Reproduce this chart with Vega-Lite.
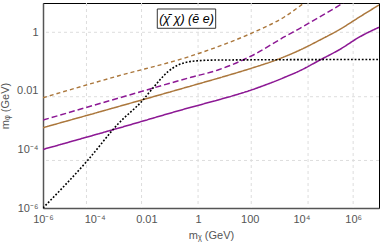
{
  "$schema": "https://vega.github.io/schema/vega-lite/v6.json",
  "width": 336,
  "height": 205,
  "autosize": {"type": "none"},
  "padding": {"left": 43, "top": 3, "right": 3, "bottom": 39},
  "background": "white",
  "config": {
    "view": {"stroke": "#000", "strokeWidth": 1},
    "axis": {
      "labelFont": "Liberation Sans",
      "titleFont": "Liberation Sans",
      "labelFontSize": 11,
      "titleFontSize": 11,
      "titleFontWeight": "normal",
      "labelColor": "#555",
      "titleColor": "#555",
      "domainColor": "#555",
      "domainWidth": 1.5,
      "ticks": false,
      "grid": false,
      "labelPadding": 5,
      "labelFlush": false,
      "labelOverlap": false
    },
    "axisX": {"titlePadding": 5},
    "axisY": {"titlePadding": 6}
  },
  "datasets": {
    "curves": [
      {"s": "bd", "x": 1e-6, "y": 0.00585},
      {"s": "bd", "x": 7.96e-4, "y": 0.0322},
      {"s": "bd", "x": 0.531, "y": 0.155},
      {"s": "bd", "x": 5.89, "y": 0.322},
      {"s": "bd", "x": 114.3, "y": 0.925},
      {"s": "bd", "x": 2239, "y": 3.4},
      {"s": "bd", "x": 12500, "y": 10},
      {"s": "pd", "x": 1e-6, "y": 0.00101},
      {"s": "pd", "x": 7.96e-4, "y": 0.00557},
      {"s": "pd", "x": 0.531, "y": 0.029},
      {"s": "pd", "x": 5.89, "y": 0.0516},
      {"s": "pd", "x": 114.3, "y": 0.155},
      {"s": "pd", "x": 2239, "y": 0.706},
      {"s": "pd", "x": 8750, "y": 1.37},
      {"s": "pd", "x": 43450, "y": 3.08},
      {"s": "pd", "x": 414000, "y": 10},
      {"s": "bs", "x": 1e-6, "y": 5.53e-4},
      {"s": "bs", "x": 7.96e-4, "y": 0.00288},
      {"s": "bs", "x": 0.531, "y": 0.01466},
      {"s": "bs", "x": 5.89, "y": 0.0269},
      {"s": "bs", "x": 114.3, "y": 0.059},
      {"s": "bs", "x": 1233, "y": 0.1197},
      {"s": "bs", "x": 8750, "y": 0.248},
      {"s": "bs", "x": 52000, "y": 0.546},
      {"s": "bs", "x": 308300, "y": 1.265},
      {"s": "bs", "x": 1832000, "y": 3.4},
      {"s": "bs", "x": 10000000, "y": 8.55},
      {"s": "ps", "x": 1e-6, "y": 1.0e-4},
      {"s": "ps", "x": 7.96e-4, "y": 5.27e-4},
      {"s": "ps", "x": 0.531, "y": 0.00275},
      {"s": "ps", "x": 5.89, "y": 0.00488},
      {"s": "ps", "x": 114.3, "y": 0.0107},
      {"s": "ps", "x": 2239, "y": 0.029},
      {"s": "ps", "x": 8750, "y": 0.0489},
      {"s": "ps", "x": 52000, "y": 0.113},
      {"s": "ps", "x": 308300, "y": 0.262},
      {"s": "ps", "x": 1832000, "y": 0.706},
      {"s": "ps", "x": 10000000, "y": 1.479},
      {"s": "dot", "x": 1e-6, "y": 1e-6},
      {"s": "dot", "x": 5.51e-5, "y": 4.37e-5},
      {"s": "dot", "x": 7.96e-4, "y": 7.4e-4},
      {"s": "dot", "x": 0.00738, "y": 0.00488},
      {"s": "dot", "x": 0.0155, "y": 0.0107},
      {"s": "dot", "x": 0.0686, "y": 0.0452},
      {"s": "dot", "x": 0.167, "y": 0.0764},
      {"s": "dot", "x": 0.303, "y": 0.0916},
      {"s": "dot", "x": 0.991, "y": 0.107},
      {"s": "dot", "x": 5.89, "y": 0.113},
      {"s": "dot", "x": 10000000, "y": 0.118}
    ],
    "gridx": [{"x": 4.8e-5}, {"x": 0.0065}, {"x": 1}, {"x": 114}, {"x": 18000}, {"x": 1000000}],
    "gridy": [{"y": 1}, {"y": 0.0063}, {"y": 4.2e-5}],
    "box": [{"x": 0.0264, "x2": 4.8, "y": 1.37, "y2": 6.24}],
    "lab": [{"x": 0.356, "y": 2.91, "t": "(χ̄ χ) (ē e)"}]
  },
  "layer": [
    {
      "data": {"name": "gridx"},
      "mark": {"type": "rule", "color": "#ddd", "strokeWidth": 1, "strokeDash": [3, 3]},
      "encoding": {
        "x": {"field": "x", "type": "quantitative", "title": "mᵪ (GeV)",
          "scale": {"type": "log", "domain": [1e-6, 1e7], "nice": false},
          "axis": {
            "values": [1e-6, 1e-4, 0.01, 1, 100, 10000, 1000000],
            "labelExpr": "datum.value < 1e-5 ? '10⁻⁶' : datum.value < 1e-3 ? '10⁻⁴' : datum.value < 0.1 ? '0.01' : datum.value < 10 ? '1' : datum.value < 1000 ? '100' : datum.value < 1e5 ? '10⁴' : '10⁶'"
          }
        }
      }
    },
    {
      "data": {"name": "gridy"},
      "mark": {"type": "rule", "color": "#ddd", "strokeWidth": 1, "strokeDash": [3, 3]},
      "encoding": {
        "y": {"field": "y", "type": "quantitative", "title": "mᵩ (GeV)",
          "scale": {"type": "log", "domain": [1e-6, 10], "nice": false},
          "axis": {
            "values": [1e-6, 1e-4, 0.01, 1],
            "labelExpr": "datum.value < 1e-5 ? '10⁻⁶' : datum.value < 1e-3 ? '10⁻⁴' : datum.value < 0.1 ? '0.01' : '1'"
          }
        }
      }
    },
    {
      "data": {"name": "curves"},
      "mark": {"type": "line", "interpolate": "monotone", "clip": true},
      "encoding": {
        "x": {"field": "x", "type": "quantitative", "title": "mᵪ (GeV)"},
        "y": {"field": "y", "type": "quantitative", "title": "mᵩ (GeV)"},
        "color": {
          "field": "s", "type": "nominal", "legend": null,
          "scale": {"domain": ["bd", "pd", "bs", "ps", "dot"], "range": ["#ab773c", "#8c1894", "#ab773c", "#8c1894", "#000000"]}
        },
        "strokeDash": {
          "field": "s", "type": "nominal", "legend": null,
          "scale": {"domain": ["bd", "pd", "bs", "ps", "dot"], "range": [[4, 3], [6, 3], [1, 0], [1, 0], [1.8, 1.8]]}
        },
        "strokeWidth": {
          "field": "s", "type": "nominal", "legend": null,
          "scale": {"domain": ["bd", "pd", "bs", "ps", "dot"], "range": [1.4, 1.6, 1.5, 1.5, 1.8]}
        }
      }
    },
    {
      "data": {"name": "box"},
      "mark": {"type": "rect", "fill": "white", "stroke": "#333", "strokeWidth": 1},
      "encoding": {
        "x": {"field": "x", "type": "quantitative", "title": "mᵪ (GeV)"},
        "x2": {"field": "x2"},
        "y": {"field": "y", "type": "quantitative", "title": "mᵩ (GeV)"},
        "y2": {"field": "y2"}
      }
    },
    {
      "data": {"name": "lab"},
      "mark": {"type": "text", "font": "Liberation Sans", "fontSize": 12.5, "fontStyle": "italic", "color": "#000", "align": "center", "baseline": "middle"},
      "encoding": {
        "x": {"field": "x", "type": "quantitative", "title": "mᵪ (GeV)"},
        "y": {"field": "y", "type": "quantitative", "title": "mᵩ (GeV)"},
        "text": {"field": "t"}
      }
    }
  ]
}
